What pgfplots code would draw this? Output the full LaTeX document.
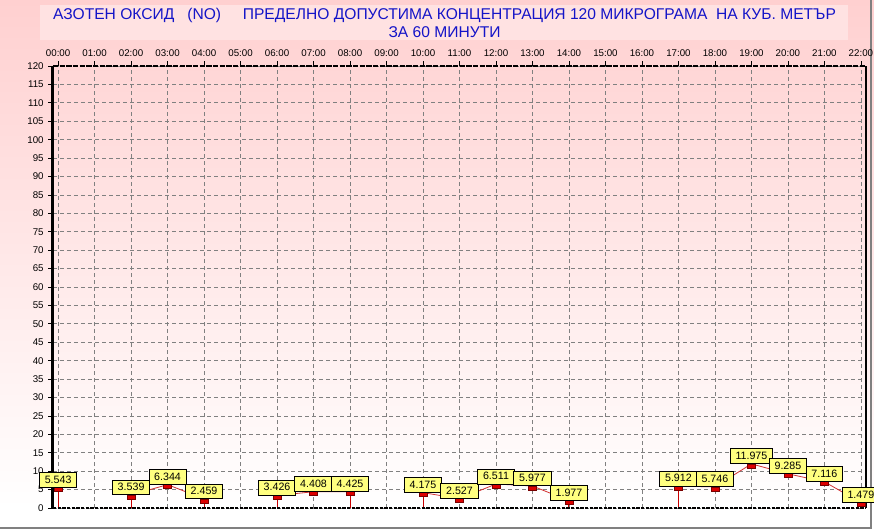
\documentclass[border=0pt]{standalone}
\usepackage{pgfplots}
\pgfplotsset{compat=1.18}
\usepackage{pgfplotstable}
\usepackage{fontspec}
\setmainfont{Liberation Sans}
\definecolor{bgtop}{RGB}{255,208,208}
\definecolor{titlebox}{RGB}{255,226,226}
\definecolor{titleblue}{RGB}{20,20,200}
\definecolor{lblyellow}{RGB}{255,255,128}
\definecolor{gridgray}{RGB}{128,128,128}
\definecolor{stemred}{RGB}{200,0,0}
\definecolor{linered}{RGB}{210,50,50}
\definecolor{markred}{RGB}{220,0,0}
\definecolor{markdark}{RGB}{120,0,0}
\pgfdeclareplotmark{hbar}{%
  \pgfpathrectangle{\pgfqpoint{-3pt}{-3pt}}{\pgfqpoint{6pt}{3pt}}%
  \pgfusepathqfillstroke}
\pgfplotstableread{
x y
0 5.543
1 nan
2 3.539
3 6.344
4 2.459
5 nan
6 3.426
7 4.408
8 4.425
9 nan
10 4.175
11 2.527
12 6.511
13 5.977
14 1.977
15 nan
16 nan
17 5.912
18 5.746
19 11.975
20 9.285
21 7.116
22 1.479
}\datatable
\begin{document}
\begin{tikzpicture}
\useasboundingbox (0,0) rectangle (655.5pt,396.75pt);
\fill[white] (0,0) rectangle (655.5pt,396.75pt);
\shade[top color=bgtop, bottom color=white] (0,15.75pt) rectangle (655.5pt,396.75pt);
\draw[gridgray, line width=1.5pt] (0,0.75pt) -- (653.25pt,0.75pt) -- (653.25pt,396.75pt);
\fill[titlebox] (30pt,366.75pt) rectangle (636pt,393pt);
\node[anchor=base, inner sep=0pt, text=titleblue, font=\fontsize{11.7}{14}\selectfont] at (333.4pt,381.75pt)
  {АЗОТЕН ОКСИД\ \ \ (NO)\ \ \ \ \ ПРЕДЕЛНО ДОПУСТИМА КОНЦЕНТРАЦИЯ 120 МИКРОГРАМА\ \ НА КУБ. МЕТЪР};
\node[anchor=base, inner sep=0pt, text=titleblue, font=\fontsize{11.7}{14}\selectfont] at (333.4pt,368.5pt)
  {ЗА 60 МИНУТИ};
\begin{axis}[
  at={(39.75pt,15.75pt)}, anchor=south west,
  width=609.75pt, height=331.5pt, scale only axis,
  xmin=-0.14, xmax=22.14, ymin=0, ymax=120,
  clip=false,
  axis line style={draw=none},
  xtick={0,...,22},
  xticklabels={00:00,01:00,02:00,03:00,04:00,05:00,06:00,07:00,08:00,09:00,10:00,11:00,12:00,13:00,14:00,15:00,16:00,17:00,18:00,19:00,20:00,21:00,22:00},
  xtick pos=right, xticklabel pos=right,
  ytick={0,5,...,120}, ytick pos=left,
  tick align=outside, major tick length=3.5pt,
  tick style={black, line width=0.6pt},
  ticklabel style={font=\fontsize{7.3}{8}\selectfont},
  /pgf/number format/assume math mode=true,
  grid=major,
  major grid style={gridgray, line width=0.6pt, dash pattern=on 3pt off 2.25pt},
]
% stems
\addplot[ycomb, stemred, line width=0.75pt, mark=none] coordinates {
  (0,5.543) (2,3.539) (4,2.459) (6,3.426) (8,4.425) (10,4.175) (14,1.977) (17,5.912) (22,1.479)};
% connecting lines
\addplot[linered, line width=0.6pt, mark=none, unbounded coords=jump] table[x=x,y=y] {\datatable};
% markers
\addplot[only marks, mark=hbar, mark options={fill=markred, draw=markdark, line width=0.5pt}] table[x=x,y=y] {\datatable};
% labels
\addplot[draw=none, mark=none, nodes near coords, point meta=explicit symbolic,
  nodes near coords style={anchor=south, fill=lblyellow, draw=black, line width=0.75pt,
    font=\fontsize{8}{9}\selectfont, inner xsep=3.9pt, inner ysep=1.9pt,
    text height=5.9pt, text depth=1.5pt, outer sep=0pt, yshift=0pt}]
  table[x=x,y=y,meta=y] {\datatable};
% borders
\draw[black, line width=1.2pt, dash pattern=on 2.5pt off 1pt] (rel axis cs:0,0) -- (rel axis cs:1,0);
\draw[black, line width=1.2pt] (rel axis cs:1,0) -- (rel axis cs:1,1);
\draw[black, line width=1.5pt, dash pattern=on 4pt off 1pt] (rel axis cs:0,1) -- (rel axis cs:1,1);
\draw[black, line width=2.25pt] (rel axis cs:0,0) -- (rel axis cs:0,1);
\end{axis}
\end{tikzpicture}
\end{document}
